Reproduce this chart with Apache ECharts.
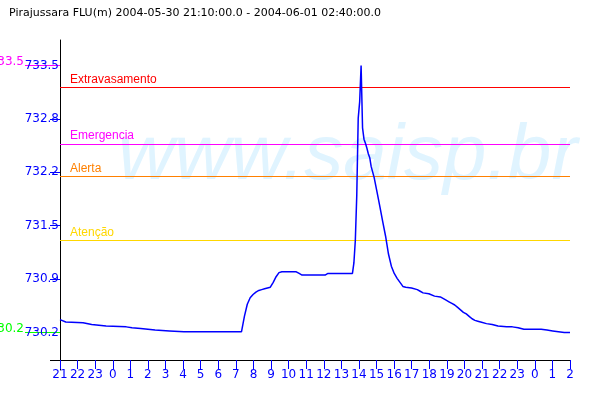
<!DOCTYPE html>
<html><head><meta charset="utf-8">
<script src="https://cdn.jsdelivr.net/npm/echarts@6/dist/echarts.min.js"></script>
<style>html,body{margin:0;padding:0;background:#fff}#c{width:600px;height:400px}</style>
</head><body><div id="c"></div>
<script>
const titleText = 'Pirajussara FLU(m) 2004-05-30 21:10:00.0 - 2004-06-01 02:40:00.0';
const startTime = '2004-05-30 21:10';
const endTime = '2004-06-01 02:40';
const times = [
 '2004-05-30 21:10','2004-05-30 21:30','2004-05-30 22:30','2004-05-30 23:00','2004-05-30 23:50',
 '2004-05-31 01:00','2004-05-31 01:20','2004-05-31 01:50','2004-05-31 02:40','2004-05-31 03:30',
 '2004-05-31 04:20','2004-05-31 07:40','2004-05-31 07:50','2004-05-31 08:00','2004-05-31 08:10',
 '2004-05-31 08:20','2004-05-31 08:30','2004-05-31 08:40','2004-05-31 08:50','2004-05-31 09:00',
 '2004-05-31 09:10','2004-05-31 09:20','2004-05-31 09:30','2004-05-31 09:40','2004-05-31 09:50',
 '2004-05-31 10:00','2004-05-31 10:50','2004-05-31 11:00','2004-05-31 11:10','2004-05-31 12:30',
 '2004-05-31 12:40','2004-05-31 14:05','2004-05-31 14:10','2004-05-31 14:15','2004-05-31 14:20',
 '2004-05-31 14:25','2004-05-31 14:30','2004-05-31 14:35','2004-05-31 14:40','2004-05-31 14:45',
 '2004-05-31 14:50','2004-05-31 14:55','2004-05-31 15:00','2004-05-31 15:05','2004-05-31 15:10',
 '2004-05-31 15:20','2004-05-31 15:30','2004-05-31 15:40','2004-05-31 15:50','2004-05-31 16:00',
 '2004-05-31 16:10','2004-05-31 16:20','2004-05-31 16:30','2004-05-31 16:40','2004-05-31 16:50',
 '2004-05-31 17:00','2004-05-31 17:10','2004-05-31 17:30','2004-05-31 17:50','2004-05-31 18:00',
 '2004-05-31 18:10','2004-05-31 18:30','2004-05-31 18:50','2004-05-31 19:10','2004-05-31 19:30',
 '2004-05-31 19:40','2004-05-31 19:50','2004-05-31 20:00','2004-05-31 20:10','2004-05-31 20:20',
 '2004-05-31 20:30','2004-05-31 20:40','2004-05-31 20:50','2004-05-31 21:00','2004-05-31 21:10',
 '2004-05-31 21:20','2004-05-31 21:30','2004-05-31 21:50','2004-05-31 22:10','2004-05-31 22:30',
 '2004-05-31 23:00','2004-05-31 23:20','2004-05-31 23:40','2004-06-01 00:00','2004-06-01 01:00',
 '2004-06-01 01:20','2004-06-01 01:40','2004-06-01 02:00','2004-06-01 02:20','2004-06-01 02:40'
];
const levels = [
 730.36,730.33,730.32,730.30,730.28,
 730.27,730.26,730.25,730.23,730.22,
 730.21,730.21,730.40,730.55,730.63,
 730.67,730.70,730.72,730.73,730.74,
 730.75,730.76,730.82,730.89,730.94,
 730.95,730.95,730.93,730.91,730.91,
 730.93,730.93,731.06,731.34,731.90,
 732.85,733.05,733.50,732.73,732.59,
 732.54,732.48,732.41,732.36,732.25,
 732.12,731.94,731.76,731.57,731.39,
 731.17,731.02,730.93,730.87,730.82,
 730.77,730.76,730.75,730.73,730.71,
 730.69,730.68,730.65,730.64,730.60,
 730.58,730.56,730.54,730.51,730.48,
 730.45,730.43,730.40,730.37,730.35,
 730.34,730.33,730.31,730.30,730.28,
 730.27,730.27,730.26,730.24,730.24,
 730.23,730.22,730.21,730.20,730.20
];
const thresholdNames = ['Extravasamento','Emergencia','Alerta','Atenção'];
const thresholdValues = [733.23, 732.53, 732.13, 731.34];
const thresholdColors = ['#FF0000','#FF00FF','#FF8000','#FFD700'];
const yTickValues = [730.2, 730.86, 731.52, 732.18, 732.84, 733.5];
const xTickLabels = ['21','22','23','0','1','2','3','4','5','6','7','8','9','10','11','12','13','14','15','16','17','18','19','20','21','22','23','0','1','2'];
const maxValue = 733.5, minValue = 730.2;
const yMin = 729.737, yMax = 733.815, xAxisValue = 729.861;
const watermark = 'www.saisp.br';

function toMs(s){const [d,t]=s.split(' ');const [Y,M,D]=d.split('-').map(Number);const [h,m]=t.split(':').map(Number);return Date.UTC(Y,M-1,D,h,m);}
const t0 = toMs(startTime), t1 = toMs(endTime);
const step = (t1-t0)/(xTickLabels.length-1);
const xTicks = xTickLabels.map((_,k)=>t0+k*step);
const data = times.map((t,i)=>[toMs(t), levels[i]]);

const FONT = 'DejaVu Sans';
const chart = echarts.init(document.getElementById('c'), null, {renderer:'canvas'});
function markerAxis(val,color){
  return {type:'value', position:'left', min:yMin, max:yMax, gridIndex:0,
    axisLine:{show:false}, splitLine:{show:false},
    axisTick:{show:true, length:35, customValues:[val], lineStyle:{color:color,width:1}},
    axisLabel:{show:true, customValues:[val], margin:36, color:color, fontFamily:FONT, fontSize:12,
      verticalAlign:'bottom', lineHeight:8, formatter:v=>v.toFixed(1)}};
}
chart.setOption({
  animation:false,
  backgroundColor:'#fff',
  title:{text:titleText, left:4, top:3, textStyle:{fontFamily:FONT, fontSize:11, fontWeight:'normal', color:'#000'}},
  grid:{left:60, right:30, top:40, bottom:30, containLabel:false, outerBoundsMode:'none'},
  graphic:[{type:'text', z:-10, left:118, top:118, silent:true,
    style:{text:watermark, font:'italic 78px "Liberation Sans"', fill:'#E0F4FF'}}],
  xAxis:{type:'value', min:t0, max:t1, offset:-10,
    axisLine:{lineStyle:{color:'#000',width:1}},
    axisTick:{customValues:xTicks, length:9, lineStyle:{color:'#0000FF'}},
    axisLabel:{customValues:xTicks, margin:9, color:'#0000FF', fontFamily:FONT, fontSize:12,
      formatter:v=>xTickLabels[Math.round((v-t0)/step)]},
    splitLine:{show:false}},
  yAxis:[
    {type:'value', min:yMin, max:yMax, position:'left',
     axisLine:{show:true, lineStyle:{color:'#000',width:1}},
     axisTick:{show:true, length:10, customValues:yTickValues, lineStyle:{color:'#0000FF'}},
     axisLabel:{customValues:yTickValues, margin:1, color:'#0000FF', fontFamily:FONT, fontSize:12,
       verticalAlign:'middle', formatter:v=>v.toFixed(1)},
     splitLine:{show:false}},
    markerAxis(maxValue,'#FF00FF'),
    markerAxis(minValue,'#00FF00'),
    {type:'value', position:'left', min:yMin, max:yMax, axisLine:{show:false}, splitLine:{show:false},
     axisTick:{show:true, length:10, customValues:[xAxisValue], lineStyle:{color:'#000'}},
     axisLabel:{show:false}}
  ],
  series:[{type:'line', data:data, showSymbol:false, symbol:'none', z:5,
    lineStyle:{color:'#0000FF', width:1.5}, clip:false,
    markLine:{silent:true, symbol:'none', animation:false,
      data:thresholdValues.map((v,i)=>({yAxis:v, lineStyle:{color:thresholdColors[i], width:1, type:'solid'},
        label:{show:true, formatter:thresholdNames[i], position:'insideStartTop', distance:[10,2],
          color:thresholdColors[i], fontFamily:'Liberation Sans', fontSize:12}}))}
  }]
});
</script></body></html>
